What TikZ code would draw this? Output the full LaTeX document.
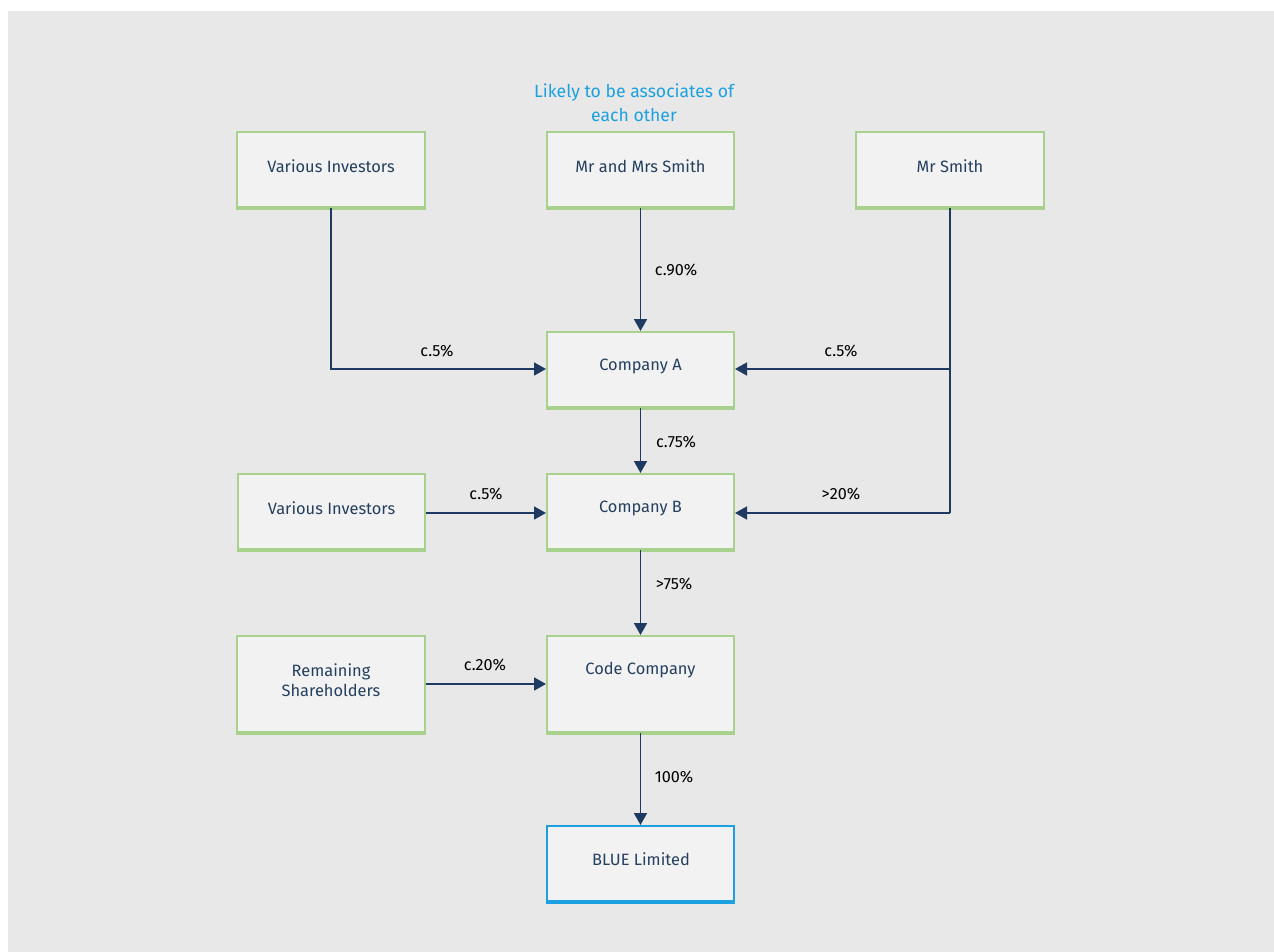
\documentclass[tikz,border=0pt]{standalone}
\usepackage{fontspec}
\setmainfont{Fira Sans}
\usetikzlibrary{arrows.meta}
\definecolor{bg}{HTML}{E8E8E8}
\definecolor{boxfill}{HTML}{F2F2F2}
\definecolor{grn}{HTML}{A9D18E}
\definecolor{blu}{HTML}{1BA1E2}
\definecolor{navy}{HTML}{1F3A60}
\definecolor{txt}{HTML}{243F60}
\tikzset{
  box/.style={draw=grn, line width=1pt, fill=boxfill, inner sep=0pt},
  bluebox/.style={box, draw=blu},
  btxt/.style={inner sep=0pt, font=\fontsize{8.2}{10}\selectfont, text=txt, align=center},
  conn/.style={draw=navy, line width=0.9pt, -{Triangle[length=6pt,width=6.5pt]}},
  line/.style={draw=navy, line width=0.9pt},
  lbl/.style={font=\fontsize{8.1}{9}\selectfont, text=black},
}
\begin{document}
\begin{tikzpicture}[x=0.5pt,y=-0.5pt]
\useasboundingbox (0,0) rectangle (1274,952);
\fill[white] (0,0) rectangle (1274,952);
\fill[bg] (8,11) rectangle (1274,952);
% boxes
\node[box, minimum width=94pt, minimum height=37.5pt] (vi1) at (331,169.5) {};
\node[box, minimum width=93.5pt, minimum height=37.5pt] (mms) at (640.5,169.5) {};
\node[box, minimum width=94pt, minimum height=37.5pt] (ms) at (950,169.5) {};
\node[box, minimum width=93.5pt, minimum height=37.5pt] (ca) at (640.5,369.5) {};
\node[box, minimum width=93.5pt, minimum height=37.5pt] (cb) at (640.5,511.5) {};
\node[box, minimum width=93.5pt, minimum height=37.5pt] (vi2) at (331.5,511.5) {};
\node[box, minimum width=94pt, minimum height=48pt] (rs) at (331,684) {};
\node[box, minimum width=93.5pt, minimum height=48pt] (cc) at (640.5,684) {};
\node[bluebox, minimum width=93.5pt, minimum height=37.5pt] (bl) at (640.5,863.5) {};
% thicker bottom edges
\foreach \n in {vi1,mms,ms,ca,cb,vi2,rs,cc} {\draw[grn, line width=1.6pt] (\n.south west) -- (\n.south east);}
\draw[blu, line width=1.6pt] (bl.south west) -- (bl.south east);
% box texts
\node[btxt] (vi1t) at (331,166) {Various Investors};
\node[btxt] (mmst) at (640.5,166) {Mr and Mrs Smith};
\node[btxt] (mst) at (950,166) {Mr Smith};
\node[btxt] (cat) at (640.5,366) {Company A};
\node[btxt] (cbt) at (640.5,508) {Company B};
\node[btxt] (vi2t) at (331.5,508) {Various Investors};
\node[btxt] (rst) at (331,680) {Remaining\\Shareholders};
\node[btxt] (cct) at (640.5,670) {Code Company};
\node[btxt] (blt) at (641,859) {BLUE Limited};
% title
\node[text=blu, font=\fontsize{8.8}{12}\selectfont, align=center] (title) at (634,103) {Likely to be associates of\\each other};
% connectors
\coordinate (j1) at (331,369);
\coordinate (j2) at (950,369);
\coordinate (j3) at (950,513);
\draw[conn] (vi1.south) -- (j1) -- (ca.west |- j1);
\draw[conn] (mms.south) -- (ca.north);
\draw[line] (ms.south) -- (j3);
\draw[conn] (j2) -- (ca.east |- j2);
\draw[conn] (j3) -- (cb.east |- j3);
\draw[conn] (ca.south) -- (cb.north);
\draw[conn] (vi2.east |- j3) -- (cb.west |- j3);
\draw[conn] (cb.south) -- (cc.north);
\draw[conn] (rs.east) -- (cc.west);
\draw[conn] (cc.south) -- (bl.north);
% labels
\node[lbl] at (437,351) {c.5\%};
\node[lbl] at (676,270) {c.90\%};
\node[lbl] at (841,351) {c.5\%};
\node[lbl] at (841,494) {>20\%};
\node[lbl] at (676,442) {c.75\%};
\node[lbl] at (486,494) {c.5\%};
\node[lbl] at (674,584) {>75\%};
\node[lbl] at (485,665) {c.20\%};
\node[lbl] at (674,777) {100\%};
\end{tikzpicture}
\end{document}
